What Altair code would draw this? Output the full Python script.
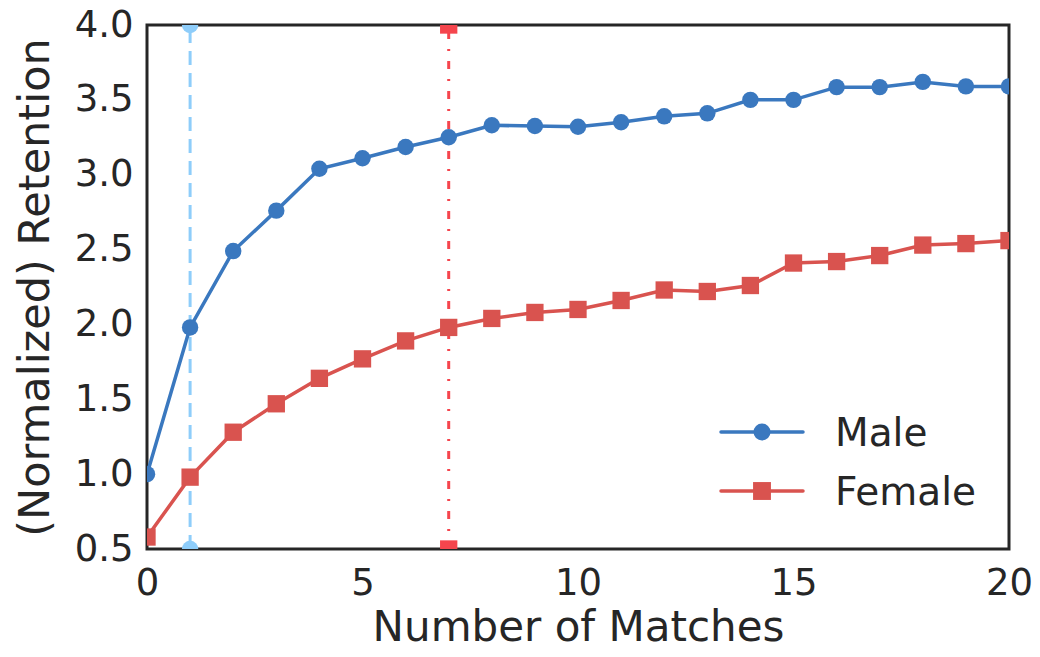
import altair as alt
import pandas as pd

matches = list(range(21))
male = [1.00, 1.98, 2.49, 2.76, 3.04, 3.11, 3.185, 3.25, 3.33, 3.325, 3.32,
        3.35, 3.39, 3.41, 3.50, 3.50, 3.585, 3.585, 3.62, 3.59, 3.59]
female = [0.58, 0.98, 1.28, 1.47, 1.64, 1.77, 1.89, 1.98, 2.04, 2.08, 2.10,
          2.16, 2.23, 2.22, 2.26, 2.41, 2.42, 2.46, 2.53, 2.54, 2.56]
series_names = ["Male", "Female"]
series_colors = ["#3a78bf", "#d9534f"]
vline_x = [1, 7]
vline_ends = [0.5, 4.0]

FONT = "DejaVu Sans"
TXT = "#262626"

df = pd.DataFrame({
    "matches": matches * 2,
    "value": male + female,
    "series": ["Male"] * len(matches) + ["Female"] * len(matches),
})

xs = alt.Scale(domain=[0, 20], nice=False, zero=False)
ys = alt.Scale(domain=[0.5, 4.0], nice=False, zero=False)

x_enc = alt.X("matches:Q", scale=xs,
              axis=alt.Axis(title="Number of Matches", values=[0, 5, 10, 15, 20],
                            format="d", grid=False, domain=False, ticks=False,
                            labelFontSize=37, labelPadding=16, labelColor=TXT,
                            titleFontSize=42, titleColor=TXT, titleFontWeight="normal",
                            titlePadding=6, labelFont=FONT, titleFont=FONT,
                            labelFlush=False))
y_enc = alt.Y("value:Q", scale=ys,
              axis=alt.Axis(title="(Normalized) Retention",
                            values=[0.5, 1.0, 1.5, 2.0, 2.5, 3.0, 3.5, 4.0],
                            format=".1f", grid=False, domain=False, ticks=False,
                            labelFontSize=37, labelPadding=14, labelColor=TXT,
                            titleFontSize=43, titleColor=TXT, titleFontWeight="normal",
                            titlePadding=17, labelFont=FONT, titleFont=FONT,
                            labelFlush=False))
x_plain = alt.X("matches:Q", scale=xs)
y_plain = alt.Y("value:Q", scale=ys)

color = alt.Color("series:N", scale=alt.Scale(domain=series_names, range=series_colors), legend=None)

base = alt.Chart(df)
lines = base.mark_line(strokeWidth=3.5, clip=True).encode(x=x_enc, y=y_enc, color=color, detail="series:N")
pts_m = base.transform_filter("datum.series == 'Male'").mark_point(
    shape="circle", filled=True, size=270, opacity=1, clip=True).encode(x=x_plain, y=y_plain, color=color)
pts_f = base.transform_filter("datum.series == 'Female'").mark_point(
    shape="square", filled=True, size=300, opacity=1, clip=True).encode(x=x_plain, y=y_plain, color=color)

vdf_blue = pd.DataFrame({"matches": [vline_x[0]] * 2, "value": vline_ends})
vdf_red = pd.DataFrame({"matches": [vline_x[1]] * 2, "value": vline_ends})

vblue = alt.Chart(vdf_blue).mark_line(color="#8ecdfa", strokeWidth=3, strokeDash=[14, 8], clip=True).encode(
    x=x_plain, y=y_plain)
vblue_pts = alt.Chart(vdf_blue).mark_point(shape="circle", filled=True, color="#8ecdfa", size=270,
                                           opacity=1, clip=True).encode(x=x_plain, y=y_plain)
vred = alt.Chart(vdf_red).mark_line(color="#f5454d", strokeWidth=3, strokeDash=[8, 10, 2, 10], clip=True).encode(
    x=x_plain, y=y_plain)
vred_pts = alt.Chart(vdf_red).mark_point(shape="square", filled=True, color="#f5454d", size=300,
                                         opacity=1, clip=True).encode(x=x_plain, y=y_plain)

# legend (inside plot, lower right)
legend_layers = []
leg_y = [407, 466]
for name, col, shp, sz, ly in zip(series_names, series_colors, ["circle", "square"], [290, 320], leg_y):
    d = alt.Data(values=[{"label": name}])
    legend_layers.append(alt.Chart(d).mark_rule(color=col, strokeWidth=3.5, strokeCap="round").encode(
        x=alt.value(574), x2=alt.value(656), y=alt.value(ly)))
    legend_layers.append(alt.Chart(d).mark_point(shape=shp, filled=True, color=col, size=sz, opacity=1).encode(
        x=alt.value(615), y=alt.value(ly)))
    legend_layers.append(alt.Chart(d).mark_text(align="left", baseline="middle", fontSize=39, font=FONT,
                                                color=TXT).encode(
        x=alt.value(688), y=alt.value(ly + 2), text="label:N"))

chart = alt.layer(vblue, vred, lines, pts_m, pts_f, vblue_pts, vred_pts, *legend_layers).properties(
    width=862, height=524,
    autosize=alt.AutoSizeParams(type="none"),
    padding={"left": 139, "top": 17, "right": 23, "bottom": 100},
    background="white",
).configure_view(stroke="#262626", strokeWidth=3)

chart.save("out.html", embed_options={"renderer": "svg", "actions": False})
